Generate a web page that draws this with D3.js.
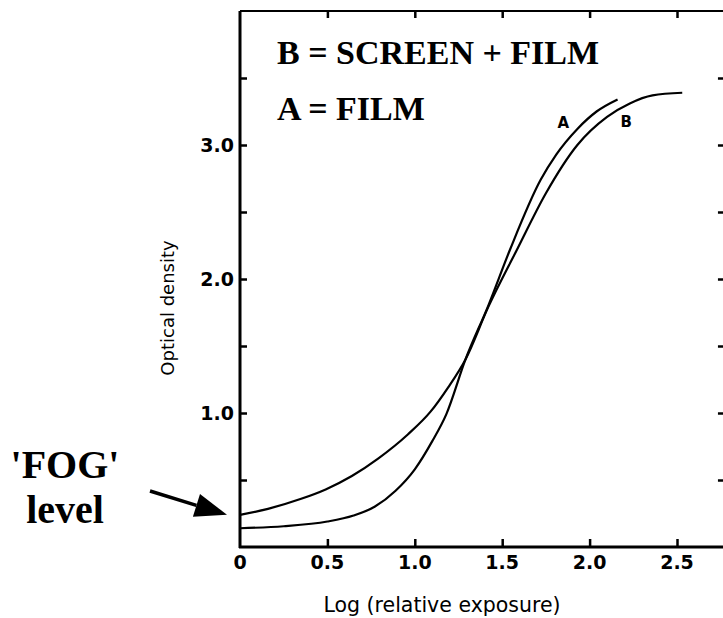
<!DOCTYPE html>
<html>
<head>
<meta charset="utf-8">
<script src="https://cdn.jsdelivr.net/npm/d3@7"></script>
<style>
    body { margin: 0; background: #fff; }
    svg { display: block; }
    .tick-label { font-family: "DejaVu Sans", sans-serif; font-weight: bold; font-size: 19px; fill: #000; }
    .axis-title { font-family: "DejaVu Sans", sans-serif; fill: #000; }
    .note { font-family: "Liberation Serif", "Times New Roman", serif; font-weight: bold; fill: #000; }
</style>
</head>
<body>
<svg></svg>
<script>
// characteristic (H&D) curves
var filmX = [0, 0.25, 0.5, 0.65, 0.77, 0.89, 1.0, 1.1, 1.18, 1.29, 1.42, 1.545, 1.72, 1.81, 1.93, 2.04, 2.16];
var filmY = [0.14, 0.155, 0.19, 0.235, 0.30, 0.42, 0.58, 0.79, 0.99, 1.40, 1.80, 2.22, 2.74, 2.93, 3.12, 3.25, 3.34];
var screenX = [0, 0.16, 0.35, 0.49, 0.64, 0.79, 0.96, 1.09, 1.19, 1.29, 1.42, 1.585, 1.75, 1.93, 2.10, 2.23, 2.36, 2.53];
var screenY = [0.24, 0.285, 0.36, 0.43, 0.53, 0.66, 0.84, 1.01, 1.19, 1.40, 1.79, 2.22, 2.64, 3.0, 3.21, 3.31, 3.37, 3.39];
var xTicks = [0, 0.5, 1.0, 1.5, 2.0, 2.5];
var xTickLabels = ["0", "0.5", "1.0", "1.5", "2.0", "2.5"];
var yTicks = [0.5, 1.0, 1.5, 2.0, 2.5, 3.0, 3.5];
var yTickLabels = { 1: "1.0", 2: "2.0", 3: "3.0" };

var W = 723, H = 618;
var svg = d3.select("svg").attr("width", W).attr("height", H);

var x = d3.scaleLinear().domain([0, 2.5]).range([240, 677]);
var y = d3.scaleLinear().domain([0, 4]).range([547, 11]);
var xMax = 2.78;

function pts(xs, ys) {
    return xs.map(function (v, i) { return [v, ys[i]]; });
}

var line = d3.line()
    .x(function (d) { return x(d[0]); })
    .y(function (d) { return y(d[1]); })
    .curve(d3.curveMonotoneX);

// frame: thick left / bottom, thinner top
svg.append("line").attr("x1", x(0)).attr("x2", x(0)).attr("y1", y(4)).attr("y2", y(0) + 1)
    .attr("stroke", "#000").attr("stroke-width", 3);
svg.append("line").attr("x1", x(0) - 1).attr("x2", x(xMax)).attr("y1", y(0)).attr("y2", y(0))
    .attr("stroke", "#000").attr("stroke-width", 3);
svg.append("line").attr("x1", x(0)).attr("x2", x(xMax)).attr("y1", y(4)).attr("y2", y(4))
    .attr("stroke", "#000").attr("stroke-width", 2);

// inward ticks
var bottomAxis = d3.axisBottom(x).tickValues(xTicks.slice(1)).tickSizeInner(-8).tickSizeOuter(0).tickFormat("");
var topAxis = d3.axisTop(x).tickValues(xTicks.slice(1)).tickSizeInner(-7).tickSizeOuter(0).tickFormat("");
var leftAxis = d3.axisLeft(y).tickValues(yTicks).tickSizeInner(-7).tickSizeOuter(0).tickFormat("");
var rightAxis = d3.axisRight(y).tickValues(yTicks).tickSizeInner(-6).tickSizeOuter(0).tickFormat("");

function tickStyle(g) {
    g.select(".domain").remove();
    g.selectAll(".tick line").attr("stroke", "#000").attr("stroke-width", 2.5);
}
svg.append("g").attr("transform", "translate(0," + y(0) + ")").call(bottomAxis).call(tickStyle);
svg.append("g").attr("transform", "translate(0," + y(4) + ")").call(topAxis).call(tickStyle);
svg.append("g").attr("transform", "translate(" + x(0) + ",0)").call(leftAxis).call(tickStyle);
svg.append("g").attr("transform", "translate(" + (x(xMax) - 2) + ",0)").call(rightAxis).call(tickStyle);

// tick labels
svg.selectAll(".xl").data(xTicks).enter().append("text")
    .attr("class", "tick-label")
    .attr("x", function (d) { return x(d); })
    .attr("y", y(0) + 22)
    .attr("text-anchor", "middle")
    .text(function (d, i) { return xTickLabels[i]; });

svg.selectAll(".yl").data([1, 2, 3]).enter().append("text")
    .attr("class", "tick-label")
    .attr("x", x(0) - 6)
    .attr("y", function (d) { return y(d) + 7; })
    .attr("text-anchor", "end")
    .text(function (d) { return yTickLabels[d]; });

// axis titles
svg.append("text").attr("class", "axis-title")
    .attr("x", 442).attr("y", 612)
    .attr("text-anchor", "middle")
    .style("font-size", "20.5px")
    .text("Log (relative exposure)");

svg.append("text").attr("class", "axis-title")
    .attr("transform", "translate(174," + 308 + ") rotate(-90)")
    .attr("text-anchor", "middle")
    .style("font-size", "18px")
    .text("Optical density");

// curves
svg.append("path").datum(pts(filmX, filmY))
    .attr("d", line).attr("fill", "none").attr("stroke", "#000").attr("stroke-width", 2.2);
svg.append("path").datum(pts(screenX, screenY))
    .attr("d", line).attr("fill", "none").attr("stroke", "#000").attr("stroke-width", 2.2);

svg.append("text").attr("class", "tick-label").style("font-size", "15px")
    .attr("x", x(1.85)).attr("y", y(3.17) + 6).attr("text-anchor", "middle").text("A");
svg.append("text").attr("class", "tick-label").style("font-size", "15px")
    .attr("x", x(2.21)).attr("y", y(3.2) + 9).attr("text-anchor", "middle").text("B");

// legend notes
svg.append("text").attr("class", "note").style("font-size", "34px")
    .attr("x", 277).attr("y", 64).text("B = SCREEN + FILM");
svg.append("text").attr("class", "note").style("font-size", "34px")
    .attr("x", 277).attr("y", 120).text("A = FILM");

// fog annotation + arrow
svg.append("text").attr("class", "note").style("font-size", "40px")
    .attr("x", 65).attr("y", 478).attr("text-anchor", "middle").text("'FOG'");
svg.append("text").attr("class", "note").style("font-size", "40px")
    .attr("x", 65).attr("y", 523).attr("text-anchor", "middle").text("level");

var tip = [x(0) - 13, y(screenY[0])];
var tail = [150, 491];
var dx = tip[0] - tail[0], dy = tip[1] - tail[1];
var len = Math.sqrt(dx * dx + dy * dy);
var ux = dx / len, uy = dy / len;
var headLen = 32, headW = 12;
var base = [tip[0] - ux * headLen, tip[1] - uy * headLen];
svg.append("line")
    .attr("x1", tail[0]).attr("y1", tail[1]).attr("x2", base[0]).attr("y2", base[1])
    .attr("stroke", "#000").attr("stroke-width", 3.5);
svg.append("path")
    .attr("d", d3.line()([
        tip,
        [base[0] - uy * headW, base[1] + ux * headW],
        [base[0] + uy * headW, base[1] - ux * headW]
    ]) + "Z")
    .attr("fill", "#000");
</script>
</body>
</html>
